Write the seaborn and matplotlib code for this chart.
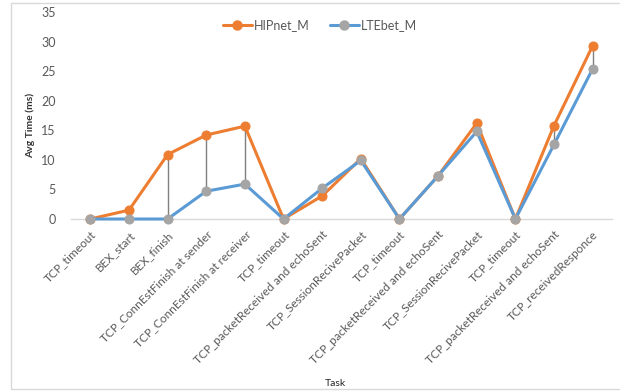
import matplotlib
matplotlib.use("Agg")
import matplotlib.pyplot as plt
from matplotlib.lines import Line2D
from matplotlib.patches import Rectangle
import numpy as np
import pandas as pd
import seaborn as sns

tasks = [
    "TCP_timeout", "BEX_start", "BEX_finish", "TCP_ConnEstFinish at sender",
    "TCP_ConnEstFinish at receiver", "TCP_timeout", "TCP_packetReceived and echoSent",
    "TCP_SessionRecivePacket", "TCP_timeout", "TCP_packetReceived and echoSent",
    "TCP_SessionRecivePacket", "TCP_timeout", "TCP_packetReceived and echoSent",
    "TCP_receivedResponce",
]
hipnet_m = [0, 1.5, 10.9, 14.2, 15.7, 0, 3.9, 10.2, 0, 7.3, 16.2, 0, 15.8, 29.3]
ltebet_m = [0, 0, 0, 4.7, 5.9, 0, 5.2, 9.9, 0, 7.3, 14.8, 0, 12.6, 25.4]
y_ticks = [0, 5, 10, 15, 20, 25, 30, 35]

ORANGE = "#ED7D31"
BLUE = "#5B9BD5"
GRAY = "#A5A5A5"
TXT = "#595959"
MS = 6.5

sns.set_theme(style="white")
plt.rcParams["font.family"] = ["Lato", "DejaVu Sans"]

pos = np.arange(len(tasks))
df = pd.DataFrame({"pos": pos, "HIPnet_M": hipnet_m, "LTEbet_M": ltebet_m})

fig = plt.figure(figsize=(6.2, 3.91), dpi=100)
W, H = 620, 391
ax = fig.add_axes([71 / W, 1 - 219 / H, (612 - 71) / W, (219 - 12) / H])

# high-low connectors between the two series
lo = np.minimum(df["HIPnet_M"], df["LTEbet_M"])
hi = np.maximum(df["HIPnet_M"], df["LTEbet_M"])
ax.vlines(df["pos"], lo, hi, color="#7F7F7F", lw=1, zorder=1)

sns.lineplot(data=df, x="pos", y="HIPnet_M", ax=ax, color=ORANGE, lw=2.2,
             marker="o", markersize=MS, markerfacecolor=ORANGE,
             markeredgecolor=ORANGE, clip_on=False, zorder=3)
sns.lineplot(data=df, x="pos", y="LTEbet_M", ax=ax, color=BLUE, lw=2.2,
             marker="o", markersize=MS, markerfacecolor=GRAY,
             markeredgecolor=GRAY, clip_on=False, zorder=4)

ax.set_xlim(-0.5, len(tasks) - 0.5)
ax.set_ylim(0, 35)
ax.set_yticks(y_ticks)
ax.set_xticks(pos)
ax.set_xticklabels(tasks, rotation=45, ha="right", rotation_mode="anchor")
ax.tick_params(axis="y", length=0, pad=11, labelsize=9, labelcolor=TXT)
ax.tick_params(axis="x", length=0, pad=7, labelsize=8.5, labelcolor=TXT)
ax.set_xlabel("")
ax.set_ylabel("")
for s in ["top", "right", "left"]:
    ax.spines[s].set_visible(False)
ax.spines["bottom"].set_color("#D9D9D9")
ax.spines["bottom"].set_linewidth(1)
ax.grid(False)

fig.text(30 / W, 1 - 125 / H, "Avg Time (ms)", rotation=90, ha="center",
         va="center", fontsize=7.5, fontweight="bold", color="#333333")
fig.text(335 / W, 1 - 383 / H, "Task", ha="center", va="center",
         fontsize=7.5, color="#262626")

handles = [
    Line2D([], [], color=ORANGE, lw=2.2, marker="o", markersize=MS,
           markerfacecolor=ORANGE, markeredgecolor=ORANGE),
    Line2D([], [], color=BLUE, lw=2.2, marker="o", markersize=MS,
           markerfacecolor=GRAY, markeredgecolor=GRAY),
]
leg = fig.legend(handles, ["HIPnet_M", "LTEbet_M"], loc="center",
                 bbox_to_anchor=(320 / W, 1 - 25 / H), ncol=2, frameon=False,
                 fontsize=9, handlelength=2.3, columnspacing=1.6,
                 handletextpad=0.2)
for t in leg.get_texts():
    t.set_color(TXT)

fig.patches.append(Rectangle((11 / W, 1 - 389 / H), (640 - 11) / W,
                             (389 - 3) / H, transform=fig.transFigure,
                             fill=False, edgecolor="#D9D9D9", lw=1))

fig.savefig("out.png", dpi=100)
